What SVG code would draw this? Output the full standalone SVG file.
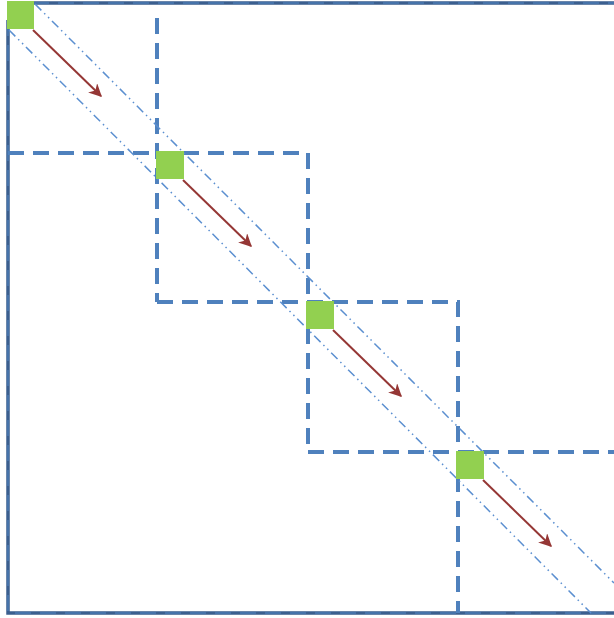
<svg xmlns="http://www.w3.org/2000/svg" width="614" height="618" viewBox="0 0 614 618">
<style>
.frame{fill:none;stroke:#3b5f8f;stroke-width:3.5}
.frameov{fill:none;stroke:#4f81bd;stroke-width:2;stroke-dasharray:16 9;opacity:0.6}
.dash{fill:none;stroke:#4f81bd;stroke-width:4;stroke-dasharray:16 9}
.band{fill:none;stroke:#5b8fd0;stroke-width:1.5;stroke-dasharray:9 4 1.5 4 1.5 4}
.blk{fill:#92d050}
.arr{fill:none;stroke:#953735;stroke-width:2;marker-end:url(#ah)}
</style>
<defs>
<marker id="ah" viewBox="0 0 10 10" refX="9" refY="5" markerWidth="6.5" markerHeight="6.5" orient="auto" markerUnits="strokeWidth">
<path d="M0,0 L10,5 L0,10 L3,5 Z" fill="#953735"/>
</marker>
</defs>
<g id="frame">
<path class="frame" d="M8,20 L8,613 L616,613 M8,3 L616,3"/>
<path class="frameov" d="M8,20 L8,613 L616,613 M8,3 L616,3"/>
</g>
<g id="blocks-grid">
<path class="dash" d="M157,18 L157,302 M8,153 L308,153 L308,452 M157,302 L458,302 L458,613 M308,452 L614,452"/>
</g>
<g id="band">
<line class="band" x1="35" y1="4" x2="614" y2="583"/>
<line class="band" x1="9" y1="30" x2="591" y2="613"/>
</g>
<g id="connectors">
<line class="arr" x1="33" y1="30" x2="101" y2="96"/>
<line class="arr" x1="183" y1="180" x2="251" y2="246"/>
<line class="arr" x1="333" y1="330" x2="401" y2="396"/>
<line class="arr" x1="483" y1="480" x2="551" y2="546"/>
</g>
<g id="node1"><rect class="blk" x="7" y="1" width="27" height="28"/></g>
<g id="node2"><rect class="blk" x="156" y="151" width="28" height="28"/></g>
<g id="node3"><rect class="blk" x="306" y="301" width="28" height="28"/></g>
<g id="node4"><rect class="blk" x="456" y="451" width="28" height="28"/></g>
</svg>
